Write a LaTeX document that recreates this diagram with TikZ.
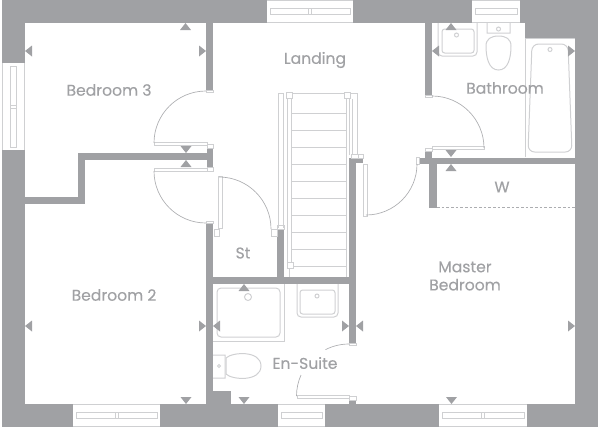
\documentclass[tikz,border=0pt]{standalone}
\usepackage{fontspec}
\setmainfont{Poppins}[FakeBold=0.25]
\definecolor{wallgrey}{HTML}{A0A1A4}
\definecolor{linegrey}{HTML}{CFD0D2}
\definecolor{swinggrey}{HTML}{ACADB0}
\tikzset{
  wall/.style={fill=wallgrey,draw=none},
  fitting/.style={draw=linegrey,line width=0.75pt},
  leaf/.style={draw=linegrey,line width=0.75pt,fill=white},
  swing/.style={draw=swinggrey,line width=0.5pt},
  roomname/.style={text=wallgrey,font=\fontsize{11.7}{13.6}\selectfont,align=center,inner sep=0pt}
}
\begin{document}
\begin{tikzpicture}[x=0.75pt,y=-0.75pt]
    \useasboundingbox (0,0) rectangle (600,430);

    % outer and inner walls
    \foreach \xa/\ya/\xb/\yb in {2/0/598/23, 2/0/25/427, 575/0/598/427, 2/404/598/427, 525/23/575/38,
        206/23/213/90, 78/153/213/160, 207/148/213/167, 78/153/85/204, 25/197/85/204,
        206/223/213/404, 277/229/284/277, 206/277/356/284, 349/158/356/343, 349/158/363/163,
        213/391/231/404, 349/400/356/404,
        425/23/432/95, 425/151/432/158, 419/158/575/164, 429/164/437/208}
      {\fill[wall] (\xa,\ya) rectangle (\xb,\yb);};

    % windows in the horizontal walls
    \foreach \xa/\xb/\ya/\xm in {267/353/0/309.5, 472/520/0/0, 73/160/404/116.5, 278/325/404/0, 439/527/404/483} {
      \fill[white] (\xa,\ya) rectangle (\xb,\ya+23);
      \draw[fitting] (\xa,\ya+0.5) -- (\xb,\ya+0.5) (\xa,\ya+22.5) -- (\xb,\ya+22.5);
      \draw[fitting] (\xa+3,\ya+8.5) rectangle (\xb-3,\ya+14.5);
      \ifdim \xm pt>0pt \draw[fitting] (\xm-1.5,\ya+8.5) -- (\xm-1.5,\ya+14.5) (\xm+1.5,\ya+8.5) -- (\xm+1.5,\ya+14.5); \fi
    };
    % window in the left wall
    \fill[white] (2,63) rectangle (25,150);
    \draw[fitting] (2.5,63) -- (2.5,150) (24.5,63) -- (24.5,150);
    \draw[fitting] (10.5,66) rectangle (16.5,147) (10.5,105) -- (16.5,105) (10.5,108) -- (16.5,108);

    % doors
    \foreach \xa/\ya/\xb/\yb in {154/142/207/145, 154/168/207/171, 207/144/213/148, 207/167/213/171,
        206/90/213/92, 206/221/213/223, 218/176/222/228, 214/229/219/236, 271/229/277/236, 277/225/284/229,
        432/146/484/149, 425/148/432/151, 425/95/432/97, 416/157/419/164,
        363/164/367/216, 351/154/358/158, 358/154/363/158, 297/395/349/398, 349/396/356/400, 349/343/356/345}
      {\draw[leaf] (\xa,\ya) rectangle (\xb,\yb);};
    \draw[swing] (206,91) arc (270:180:52);
    \draw[swing] (154,171) arc (180:90:52);
    \draw[swing] (219,177) arc (270:360:52);
    \draw[swing] (432,96) arc (270:360:52);
    \draw[swing] (417,164) arc (0:90:51);
    \draw[swing] (349,344) arc (270:243:52);
    \draw[swing] (301,375) arc (204:180:52);

    % stairs
    \draw[fitting] (283,228) -- (283,93) -- (278,93) -- (278,228);
    \draw[fitting] (287,99) -- (287,262) (291,99) -- (291,262) (289.5,267) -- (289.5,277);
    \draw[fitting] (293,93) -- (344,93) (346,99) -- (346,277) (349,99) -- (349,155);
    \draw[fitting] (351,93) -- (357,93) -- (357,154) (352.5,99) -- (352.5,154);
    \foreach \t in {0,...,9} {\draw[fitting] (291,113+\t*17) -- (346,113+\t*17);};
    \foreach \xa/\ya in {286/92, 344/92, 287/262} {\draw[leaf] (\xa,\ya) rectangle (\xa+6.5,\ya+6.5);};

    % bathroom
    \draw[fitting,rounded corners=3] (438,23) -- (438,56) -- (477,56) -- (477,23);
    \draw[fitting,rounded corners=2] (442,29) -- (442,53) -- (474,53) -- (474,29) -- cycle;
    \draw[fitting] (456.5,35) circle (2);
    \draw[fitting] (487,23) -- (487,33) -- (510,33) -- (510,23) (498.5,29) circle (2);
    \draw[fitting] (498.5,36) .. controls (506,36) and (511,39) .. (511,46) .. controls (511,58) and (508,70) .. (498.5,70)
        .. controls (489,70) and (486,58) .. (486,46) .. controls (486,39) and (491,36) .. (498.5,36);
    \draw[fitting] (525,157) -- (525,38.5) -- (575,38.5);
    \draw[fitting,rounded corners=5] (532,44) -- (568,44) -- (572,152) -- (528,152) -- cycle;
    \draw[fitting] (550,49.5) circle (2);

    % en-suite
    \draw[fitting] (213,341) -- (284,341) -- (284,284);
    \draw[fitting,rounded corners=3] (217,288) rectangle (280,337);
    \draw[fitting] (248,297) circle (3.5);
    \draw[fitting,rounded corners=3] (297,284) -- (297,317) -- (338,317) -- (338,284);
    \draw[fitting,rounded corners=2] (300,290) -- (300,314) -- (335,314) -- (335,290) -- cycle;
    \draw[fitting] (317,296) circle (2);
    \draw[fitting] (213,355) -- (225,355) -- (225,378) -- (213,378) (219,366) circle (1.5);
    \draw[fitting] (226,358) .. controls (232,352) and (261,350) .. (261,366) .. controls (261,382) and (232,380) .. (226,374) -- cycle;

    % wardrobe
    \draw[swing,dashed,dash pattern=on 2pt off 1.5pt] (437,207) -- (575,207);

    % small arrow marks
    \foreach \x/\y/\a in {185.5/23/0, 25/51/90, 206/51/-90, 186/153/180, 186/160/0, 25/326/90, 206/326/-90, 186/404/180,
        213/326/90, 244/284/0, 349/326/-90, 244/404/180, 356/326/90, 575/326/-90, 451.5/404/180,
        451/23/0, 432/51/90, 575/51/-90, 451/157/180, 451/164/0}
      {\fill[wall,shift={(\x,\y)},rotate=\a] (0,0) -- (-5.5,7) -- (5.5,7) -- cycle;};

    % room names
    \node[roomname] (landing) at (315,60) {Landing};
    \node[roomname] (bedthree) at (109,90) {Bedroom 3};
    \node[roomname] (bathroom) at (505,88) {Bathroom};
    \node[roomname] (wardrobe) at (502,187) {W};
    \node[roomname] (store) at (243,253) {St};
    \node[roomname] (bedtwo) at (114,295) {Bedroom 2};
    \node[roomname] (master) at (465,276) {Master\\Bedroom};
    \node[roomname] (ensuite) at (305,363) {En-Suite};
\end{tikzpicture}
\end{document}
